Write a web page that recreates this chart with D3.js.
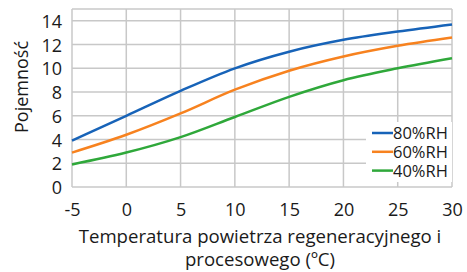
<!DOCTYPE html>
<html>
<head>
<meta charset="utf-8">
<script src="https://cdn.jsdelivr.net/npm/d3@7"></script>
<style>
  body { margin: 0; background: #fff; }
  text { font-family: "Open Sans", "Noto Sans", sans-serif; fill: #1a1a1a; }
</style>
</head>
<body>
<svg id="chart" width="467" height="272"></svg>
<script>
// temperatures (x) and capacity per humidity level
var temps = [-5, 0, 5, 10, 15, 20, 25, 30];
var rh80 = [3.9, 6.0, 8.1, 10.0, 11.4, 12.4, 13.1, 13.7];
var rh60 = [2.9, 4.4, 6.2, 8.2, 9.8, 11.0, 11.9, 12.6];
var rh40 = [1.9, 2.9, 4.2, 5.9, 7.6, 9.0, 10.0, 10.85];
var seriesNames = ["80%RH", "60%RH", "40%RH"];
var seriesColors = ["#1763b8", "#f7821f", "#2fa83a"];
var yTicks = [0, 2, 4, 6, 8, 10, 12, 14];
var xTicks = [-5, 0, 5, 10, 15, 20, 25, 30];

var svg = d3.select("#chart");
var plotLeft = 72, plotRight = 452, plotTop = 9, plotBottom = 187;

var x = d3.scaleLinear().domain([-5, 30]).range([plotLeft, plotRight]);
var y = d3.scaleLinear().domain([0, 15]).range([plotBottom, plotTop]);

// grid
svg.append("g")
    .selectAll("line")
    .data(yTicks.concat([15]))
    .enter().append("line")
    .attr("x1", plotLeft).attr("x2", plotRight)
    .attr("y1", function (d) { return y(d); })
    .attr("y2", function (d) { return y(d); })
    .attr("stroke", "#c8c8c8")
    .attr("stroke-width", 1.5);

svg.append("g")
    .selectAll("line")
    .data(xTicks)
    .enter().append("line")
    .attr("x1", function (d) { return x(d); })
    .attr("x2", function (d) { return x(d); })
    .attr("y1", plotTop).attr("y2", plotBottom)
    .attr("stroke", "#c8c8c8")
    .attr("stroke-width", 1.5);

// tick labels
var yAxis = d3.axisLeft(y).tickValues(yTicks).tickSize(0).tickPadding(10);
var gy = svg.append("g").attr("transform", "translate(" + plotLeft + ",0)").call(yAxis);
gy.select(".domain").remove();
gy.selectAll("text").attr("font-size", "18px").attr("dy", "0.36em");

var xAxis = d3.axisBottom(x).tickValues(xTicks).tickSize(0).tickPadding(16)
    .tickFormat(function (d) { return String(d); });
var gx = svg.append("g").attr("transform", "translate(0," + plotBottom + ")").call(xAxis);
gx.select(".domain").remove();
gx.selectAll("text").attr("font-size", "18px");

// lines
var allSeries = [rh80, rh60, rh40];
var line = d3.line()
    .x(function (d, i) { return x(temps[i]); })
    .y(function (d) { return y(d); })
    .curve(d3.curveMonotoneX);

svg.append("g")
    .selectAll("path")
    .data(allSeries)
    .enter().append("path")
    .attr("d", line)
    .attr("fill", "none")
    .attr("stroke", function (d, i) { return seriesColors[i]; })
    .attr("stroke-width", 2.5);

// legend
var legend = svg.append("g");
legend.append("rect")
    .attr("x", 366).attr("y", 122)
    .attr("width", 86).attr("height", 60)
    .attr("fill", "#fff");

var rows = legend.selectAll("g")
    .data(seriesNames)
    .enter().append("g")
    .attr("transform", function (d, i) { return "translate(0," + (133 + i * 18.8) + ")"; });
rows.append("line")
    .attr("x1", 372).attr("x2", 393)
    .attr("stroke", function (d, i) { return seriesColors[i]; })
    .attr("stroke-width", 2.5);
rows.append("text")
    .attr("x", 393).attr("dy", "0.36em")
    .attr("font-size", "16.5px")
    .text(function (d) { return d; });

// titles
svg.append("text")
    .attr("transform", "translate(28,87) rotate(-90)")
    .attr("text-anchor", "middle")
    .attr("font-size", "18px")
    .text("Pojemność");

svg.append("text")
    .attr("x", 260).attr("y", 243)
    .attr("text-anchor", "middle")
    .attr("font-size", "18.6px")
    .text("Temperatura powietrza regeneracyjnego i");
svg.append("text")
    .attr("x", 260).attr("y", 266)
    .attr("text-anchor", "middle")
    .attr("font-size", "18.6px")
    .text("procesowego (ºC)");
</script>
</body>
</html>
